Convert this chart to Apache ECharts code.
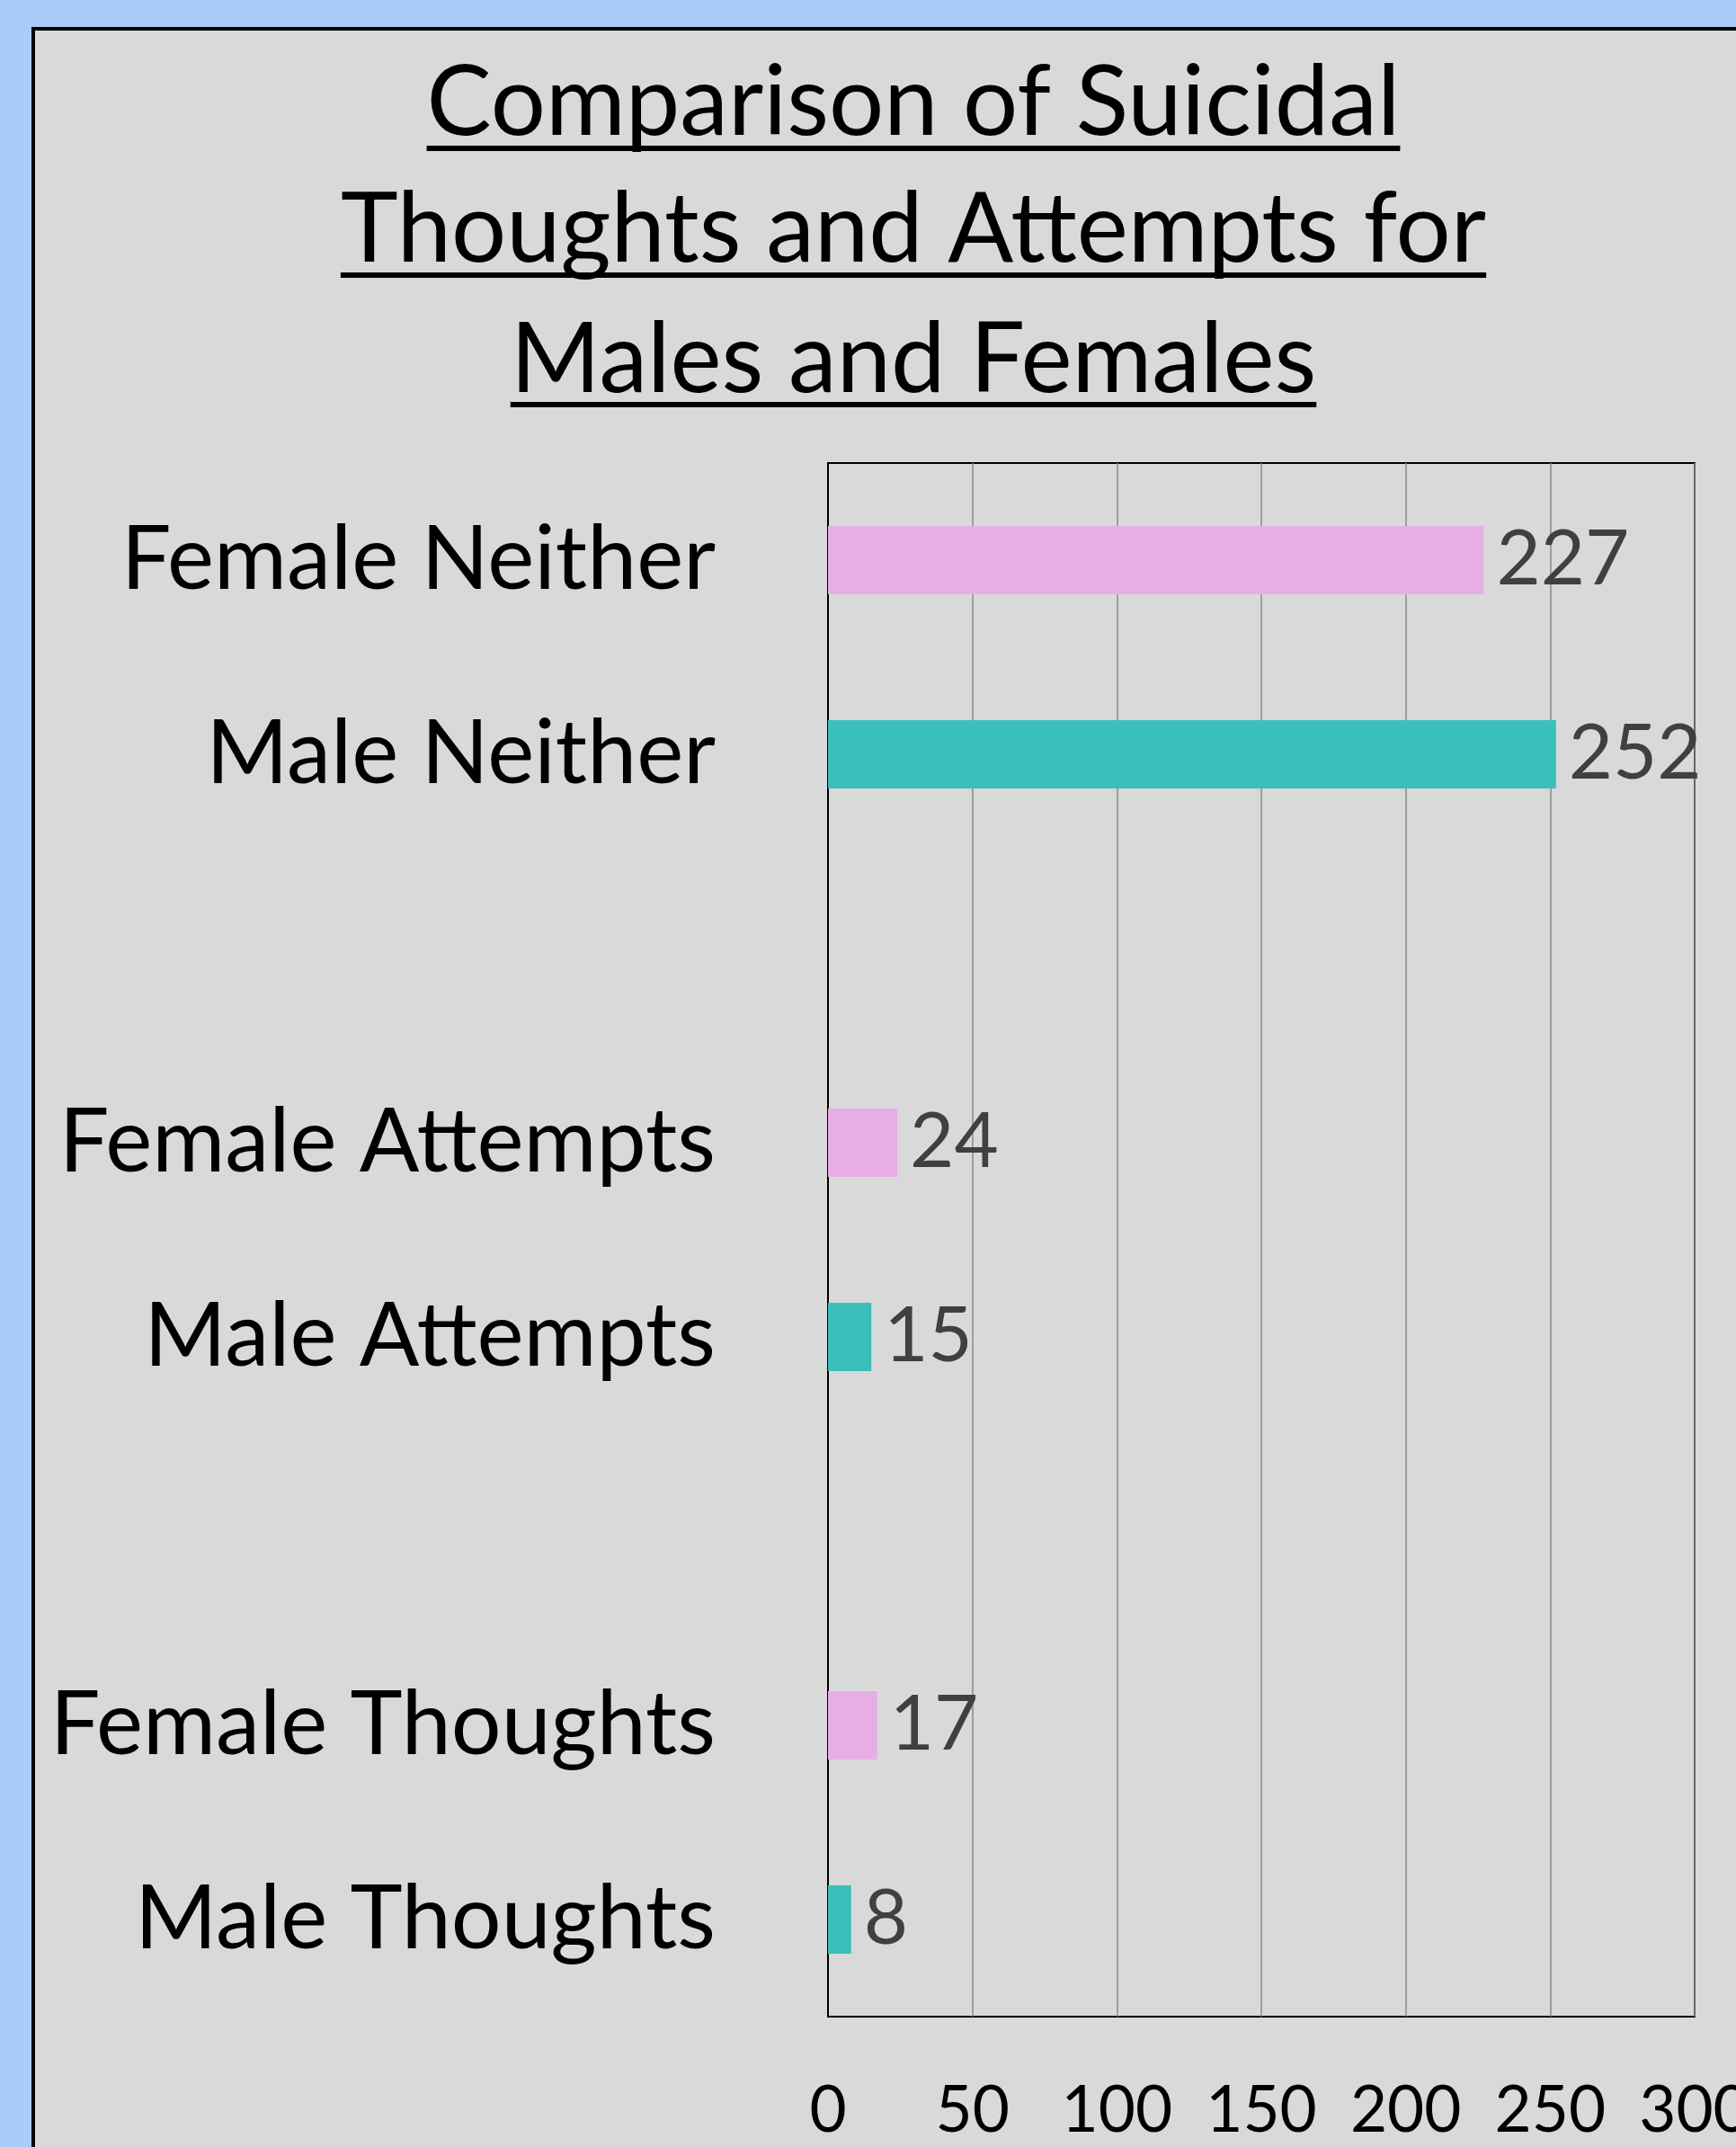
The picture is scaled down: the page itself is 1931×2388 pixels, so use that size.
<!DOCTYPE html>
<html>
<head>
<meta charset="utf-8">
<title>Comparison of Suicidal Thoughts and Attempts</title>
<script src="https://cdn.jsdelivr.net/npm/echarts@6/dist/echarts.min.js"></script>
<style>
  html, body { margin: 0; padding: 0; background: #abcbf8; }
  #chart { width: 1931px; height: 2388px; }
</style>
</head>
<body>
<div id="chart"></div>
<script>
// values
const categories = [
  'Female Neither', 'Male Neither', '',
  'Female Attempts', 'Male Attempts', '',
  'Female Thoughts', 'Male Thoughts'
];
const counts = [227, 252, null, 24, 15, null, 17, 8];
const xTicks = [0, 50, 100, 150, 200, 250, 300];
const titleLines = [
  'Comparison of Suicidal',
  'Thoughts and Attempts for',
  'Males and Females'
];

const FONT = 'Lato, "Open Sans", sans-serif';
const FEMALE = '#e6aee5';
const MALE = '#3bbfbb';

const chart = echarts.init(document.getElementById('chart'), null, { renderer: 'canvas' });

// title lines drawn by hand so they can be underlined
const titleSize = 108;
const titleCenter = 1016;
const titleMid = [115, 256, 401];
const underlineY = [162, 303, 447];
const measure = document.createElement('canvas').getContext('2d');
measure.font = titleSize + 'px ' + FONT;

const titleGraphics = [];
titleLines.forEach((line, i) => {
  const w = measure.measureText(line).width;
  titleGraphics.push({
    type: 'text',
    silent: true,
    style: {
      text: line,
      x: titleCenter,
      y: titleMid[i],
      align: 'center',
      verticalAlign: 'middle',
      font: titleSize + 'px ' + FONT,
      fill: '#000'
    }
  });
  titleGraphics.push({
    type: 'rect',
    silent: true,
    shape: { x: titleCenter - w / 2, y: underlineY[i], width: w, height: 6 },
    style: { fill: '#000' }
  });
});

const option = {
  backgroundColor: '#abcbf8',
  animation: false,
  graphic: [
    {
      type: 'rect',
      silent: true,
      z: -100,
      shape: { x: 37, y: 32, width: 2000, height: 2500 },
      style: { fill: '#d9d9d9', stroke: '#000', lineWidth: 4 }
    }
  ].concat(titleGraphics),
  grid: {
    left: 921,
    top: 515,
    right: 46,
    bottom: 145,
    outerBoundsMode: 'none',
    containLabel: false,
    show: true,
    backgroundColor: 'transparent',
    borderColor: '#000',
    borderWidth: 2
  },
  xAxis: {
    type: 'value',
    min: xTicks[0],
    max: xTicks[xTicks.length - 1],
    interval: xTicks[1] - xTicks[0],
    axisLine: { show: false },
    axisTick: { show: false },
    splitLine: { show: true, lineStyle: { color: '#8a8a8a', width: 1.5 } },
    axisLabel: {
      color: '#000',
      fontFamily: FONT,
      fontSize: 71,
      margin: 70,
      showMaxLabel: true,
      showMinLabel: true
    }
  },
  yAxis: {
    type: 'category',
    inverse: true,
    data: categories,
    axisLine: { show: true, lineStyle: { color: '#000', width: 2 } },
    axisTick: { show: false },
    splitLine: { show: false },
    axisLabel: {
      color: '#000',
      fontFamily: FONT,
      fontSize: 98.5,
      margin: 125,
      interval: 0
    }
  },
  series: [
    {
      type: 'bar',
      barWidth: 76,
      data: counts.map((v, i) => ({
        value: v,
        itemStyle: { color: categories[i].indexOf('Female') === 0 ? FEMALE : MALE }
      })),
      label: {
        show: true,
        position: 'right',
        distance: 14,
        color: '#404040',
        fontFamily: FONT,
        fontSize: 85
      }
    }
  ]
};

chart.setOption(option);
</script>
</body>
</html>
